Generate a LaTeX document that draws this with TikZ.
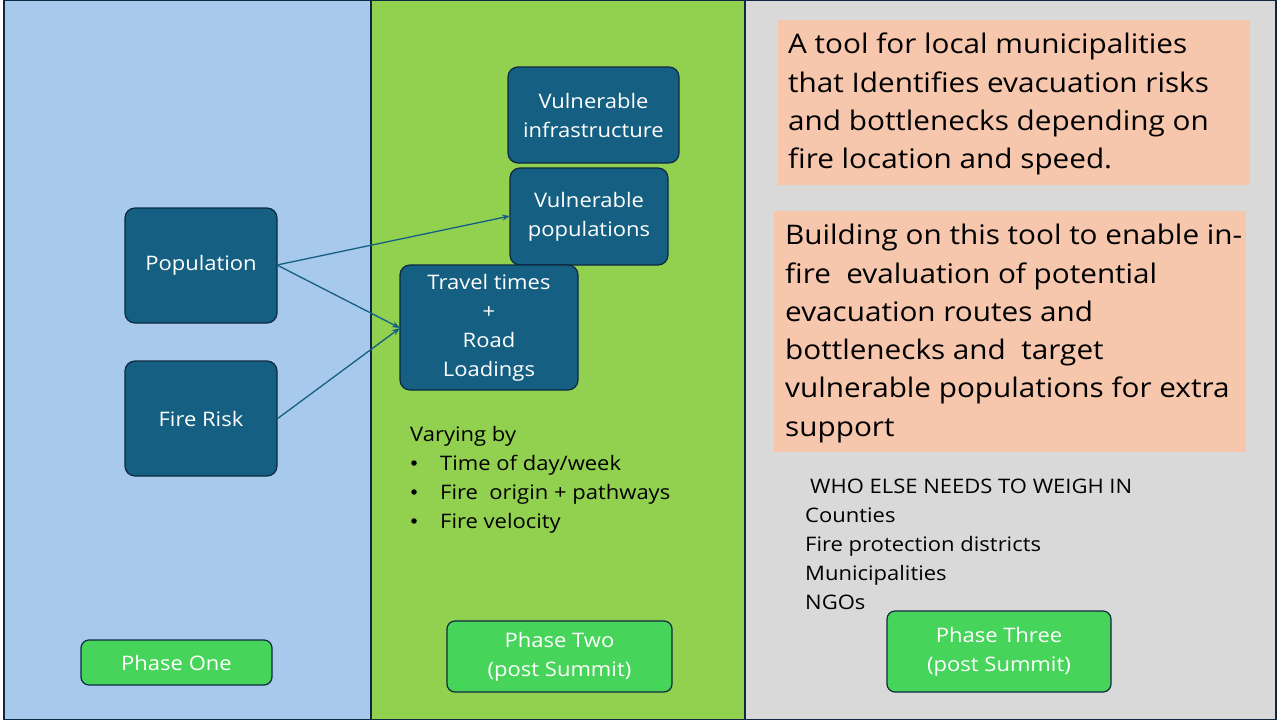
\documentclass[tikz,border=0pt]{standalone}
\usepackage{fontspec}
\setmainfont[FakeStretch=1.1]{Open Sans}
\usetikzlibrary{arrows.meta}
\definecolor{pblue}{HTML}{A6C9EC}
\definecolor{pgreen}{HTML}{92D050}
\definecolor{pgrey}{HTML}{D9D9D9}
\definecolor{navy}{HTML}{0E2841}
\definecolor{teal}{HTML}{156082}
\definecolor{phasegreen}{HTML}{47D45A}
\definecolor{peach}{HTML}{F6C6AD}
\tikzset{
  panel/.style={draw=navy, line width=2pt},
  darkbox/.style={draw=navy, fill=teal, line width=1.2pt, rounded corners=10pt, text=white, align=center, font=\fontsize{20}{29}\selectfont, inner sep=0pt},
  phasebox/.style={draw=navy, fill=phasegreen, line width=1.2pt, rounded corners=8pt, text=white, align=center, font=\fontsize{20}{29}\selectfont, inner sep=0pt},
  peachbox/.style={fill=peach, inner sep=0pt},
  bigtext/.style={anchor=north west, align=left, font=\fontsize{27}{38.3}\selectfont, inner sep=0pt},
  listtext/.style={anchor=north west, align=left, font=\fontsize{20}{29}\selectfont, inner sep=0pt},
  dot/.style={circle, fill=black, minimum size=5.5pt, inner sep=0pt},
  conn/.style={draw=teal, line width=1.3pt, -{Stealth[length=8pt,width=6pt]}}
}
\begin{document}
\begin{tikzpicture}[x=1pt,y=-1pt]
\useasboundingbox (0,0) rectangle (1280,720);
% panels
\path[panel, fill=pblue] (4,0) rectangle (371,720);
\path[panel, fill=pgreen] (371,0) rectangle (745,720);
\path[panel, fill=pgrey] (745,0) rectangle (1276,720);
% phase one nodes
\node[darkbox, minimum width=152pt, minimum height=115pt] (pop) at (201,265.5) {Population};
\node[darkbox, minimum width=152pt, minimum height=115pt] (fire) at (201,418.5) {Fire Risk};
% phase two nodes
\node[darkbox, minimum width=171pt, minimum height=96pt] (vinf) at (593.5,115) {Vulnerable\\infrastructure};
\node[darkbox, minimum width=158pt, minimum height=97pt] (vpop) at (589,216.5) {Vulnerable\\populations};
\node[darkbox, minimum width=178pt, minimum height=125pt] (travel) at (489,327.5) {Travel times\\+\\Road\\Loadings};
\coordinate (popR) at (277,265);
\coordinate (fireR) at (277,419);
\coordinate (vpopL) at (510,216);
\coordinate (travL) at (400,328);
\draw[conn] (popR) -- (vpopL);
\draw[conn] (popR) -- (travL);
\draw[conn] (fireR) -- (travL);
% varying by
\node[listtext] (vary) at (410,426) {Varying by};
\node[dot] (b1) at (414,463) {};
\node[dot] (b2) at (414,492) {};
\node[dot] (b3) at (414,521) {};
\node[listtext] (l1) at (440,455) {Time of day/week};
\node[listtext] (l2) at (440,484) {Fire\ \ origin + pathways};
\node[listtext] (l3) at (440,513) {Fire velocity};
% phase boxes
\node[phasebox, minimum width=191pt, minimum height=45pt] (p1) at (176.5,662.5) {Phase One};
\node[phasebox, minimum width=225pt, minimum height=71pt] (p2) at (559.5,656.5) {Phase Two\\(post Summit)};
\node[phasebox, minimum width=224pt, minimum height=81pt] (p3) at (999,651.5) {Phase Three\\(post Summit)};
% phase three text
\path[peachbox] (778,20) rectangle (1250,185);
\node[bigtext] (t1) at (788,33) {A tool for local municipalities\\that Identifies evacuation risks\\and bottlenecks depending on\\fire location and speed.};
\path[peachbox] (774,211) rectangle (1246,452);
\node[bigtext] (t2) at (785,224) {Building on this tool to enable in-\\fire\ \ evaluation of potential\\evacuation routes and\\bottlenecks and\ \ target\\vulnerable populations for extra\\support};
\node[listtext] (who) at (810,479) {WHO ELSE NEEDS TO WEIGH IN};
\node[listtext] (c1) at (805,508) {Counties\\Fire protection districts\\Municipalities\\NGOs};
\end{tikzpicture}
\end{document}
